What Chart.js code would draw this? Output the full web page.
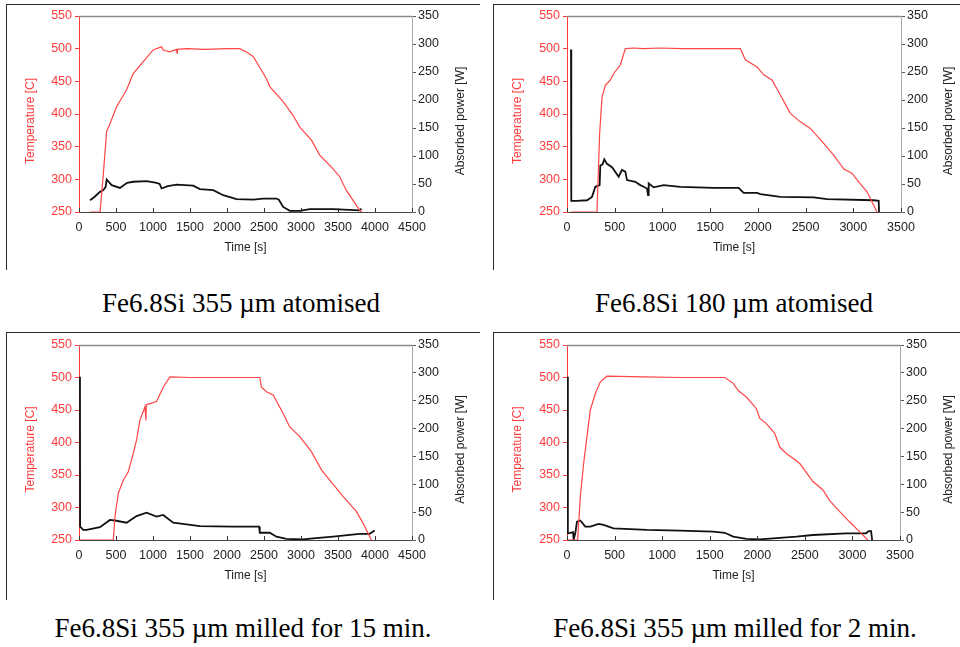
<!DOCTYPE html>
<html><head><meta charset="utf-8">
<script src="https://cdn.jsdelivr.net/npm/chart.js@4.4.1/dist/chart.umd.min.js"></script>
<style>
html,body{margin:0;padding:0;background:#fff;}
body{width:960px;height:647px;overflow:hidden;position:relative;}
.frame{position:absolute;border-left:1px solid #2a2a2a;border-top:1px solid #2a2a2a;box-sizing:border-box;}
.cap{position:absolute;font-family:"Liberation Serif","Times New Roman",serif;font-size:27px;line-height:30px;color:#000;white-space:nowrap;text-align:center;width:480px;}
canvas{position:absolute;}
</style></head><body>
<div class="frame" style="left:6px;top:4px;width:474px;height:266px;"></div>
<div class="frame" style="left:493px;top:4px;width:467px;height:266px;"></div>
<div class="frame" style="left:6px;top:332px;width:474px;height:268px;"></div>
<div class="frame" style="left:493px;top:332px;width:467px;height:268px;"></div>
<canvas id="c1" width="480" height="265" style="left:0;top:0;"></canvas>
<canvas id="c2" width="480" height="265" style="left:480px;top:0;"></canvas>
<canvas id="c3" width="480" height="265" style="left:0;top:330px;"></canvas>
<canvas id="c4" width="480" height="265" style="left:480px;top:330px;"></canvas>
<div class="cap" style="left:1px;top:288px;">Fe6.8Si 355 µm atomised</div>
<div class="cap" style="left:494px;top:288px;">Fe6.8Si 180 µm atomised</div>
<div class="cap" style="left:3px;top:613px;">Fe6.8Si 355 µm milled for 15 min.</div>
<div class="cap" style="left:495px;top:613px;">Fe6.8Si 355 µm milled for 2 min.</div>
<script>
// ---- data (time [s], temperature [C], absorbed power [W]) ----
const p1TempT = [150, 285, 330, 373, 418, 508, 643, 733, 868, 1003, 1093, 1115, 1138, 1228, 1318, 1325, 1330, 1453, 1700, 2000, 2173, 2263, 2353, 2450, 2533, 2578, 2758, 2893, 2983, 3141, 3253, 3433, 3523, 3613, 3793, 3820];
const p1TempV = [250, 250, 310, 373, 385, 411, 437, 462, 480, 498, 502, 503, 498, 495, 499, 493, 499, 500, 499, 500, 500, 495, 488, 470, 454, 442, 419, 398, 380, 360, 337, 316, 304, 283, 253, 250];
const p1PowT = [149, 200, 284, 329, 360, 374, 441, 554, 650, 734, 914, 1049, 1090, 1116, 1200, 1318, 1544, 1634, 1814, 1949, 2129, 2354, 2489, 2669, 2700, 2759, 2849, 2984, 3119, 3434, 3794, 3816];
const p1PowV = [21, 26, 36, 39, 45, 58, 48, 43, 52, 54, 55, 52, 50, 42, 46, 49, 47, 41, 39, 30, 23, 22, 24, 24, 22, 9, 2, 2, 5, 5, 3, 6];

const p2TempT = [42, 314, 342, 367, 402, 454, 489, 559, 611, 699, 800, 978, 1200, 1500, 1816, 1869, 1991, 2061, 2148, 2236, 2340, 2445, 2550, 2690, 2794, 2899, 2987, 3074, 3144, 3249];
const p2TempV = [250, 250, 370, 426, 444, 452, 462, 475, 500, 501, 500, 501, 500, 500, 500, 483, 472, 460, 452, 429, 401, 388, 378, 355, 337, 316, 309, 293, 281, 250];
const p2PowT = [42, 45, 100, 210, 262, 297, 342, 349, 372, 391, 419, 472, 541, 576, 611, 629, 716, 768, 803, 838, 849, 856, 908, 1013, 1188, 1537, 1799, 1851, 1991, 2026, 2236, 2585, 2725, 3213, 3266, 3270];
const p2PowV = [290, 20, 20, 21, 27, 45, 48, 83, 85, 94, 86, 80, 63, 75, 72, 57, 54, 48, 45, 42, 30, 51, 44, 48, 45, 43, 43, 34, 34, 32, 27, 26, 23, 21, 20, 0];

const p3TempT = [0, 463, 486, 531, 598, 666, 733, 778, 823, 891, 905, 910, 936, 1048, 1138, 1228, 1500, 2000, 2443, 2466, 2533, 2623, 2758, 2848, 2983, 3141, 3276, 3388, 3568, 3748, 3838, 3951];
const p3TempV = [250, 250, 286, 322, 342, 355, 383, 404, 434, 455, 434, 458, 459, 463, 485, 501, 500, 500, 500, 485, 478, 473, 445, 424, 409, 386, 358, 342, 317, 294, 276, 250];
const p3PowT = [13, 15, 58, 103, 283, 418, 486, 643, 778, 913, 1048, 1138, 1273, 1453, 1633, 2083, 2434, 2443, 2578, 2668, 2803, 3028, 3163, 3433, 3793, 3928, 3996];
const p3PowV = [293, 24, 18, 18, 23, 36, 35, 31, 43, 49, 42, 45, 31, 28, 25, 24, 24, 13, 13, 6, 2, 1, 3, 6, 11, 11, 17];

const p4TempT = [7, 112, 140, 175, 210, 245, 297, 349, 419, 800, 1200, 1659, 1747, 1799, 1886, 1991, 2026, 2096, 2183, 2236, 2305, 2445, 2585, 2690, 2759, 2864, 2969, 3074, 3161];
const p4TempV = [250, 250, 317, 368, 409, 450, 475, 493, 502, 501, 500, 500, 491, 480, 470, 452, 437, 429, 414, 393, 383, 368, 340, 327, 311, 294, 278, 263, 250];
const p4PowT = [7, 9, 17, 63, 70, 87, 105, 140, 192, 245, 332, 384, 489, 838, 1188, 1537, 1659, 1747, 1886, 2026, 2166, 2410, 2585, 2934, 3144, 3172, 3196, 3207];
const p4PowV = [293, 12, 12, 14, 1, 12, 33, 35, 24, 24, 29, 27, 21, 18, 17, 15, 13, 6, 2, 1, 3, 6, 9, 12, 12, 16, 16, 0];

const xMaxes = [4500, 3500, 4500, 3500];
const tempTicks = [250, 550, 50];   // min, max, step
const powTicks = [0, 350, 50];
const xTitle = 'Time [s]';
const leftTitle = 'Temperature [C]';
const rightTitle = 'Absorbed power [W]';

// ---- rendering ----
const RED = '#ff3b3b';
const FONT = '"Liberation Sans", Arial, sans-serif';
Chart.defaults.font.family = FONT;
Chart.defaults.font.size = 12;
const TICKFONT = {size: 12.5};

const pts = (t, v) => t.map((x, i) => ({x, y: v[i]}));
const plain = v => String(v);

const decor = {
  id: 'decor',
  afterDraw(chart, args, o) {
    const {ctx, chartArea: a, scales} = chart;
    ctx.save();
    ctx.strokeStyle = '#8a8a8a'; ctx.lineWidth = 1.5;
    ctx.beginPath(); ctx.moveTo(a.left, a.top + 0.5); ctx.lineTo(a.right, a.top + 0.5); ctx.stroke();
    ctx.strokeStyle = '#333'; ctx.lineWidth = 1;
    scales.x.ticks.forEach(t => {
      const px = Math.round(scales.x.getPixelForValue(t.value)) + 0.5;
      ctx.beginPath(); ctx.moveTo(px, a.bottom); ctx.lineTo(px, a.bottom - 4); ctx.stroke();
    });
    ctx.font = '12px ' + FONT;
    ctx.textAlign = 'center'; ctx.textBaseline = 'middle';
    const cy = (a.top + a.bottom) / 2 + 7;
    ctx.save(); ctx.fillStyle = RED; ctx.translate(o.lx, cy); ctx.rotate(-Math.PI / 2); ctx.fillText(leftTitle, 0, 0); ctx.restore();
    ctx.save(); ctx.fillStyle = '#222'; ctx.translate(o.rx, cy); ctx.rotate(-Math.PI / 2); ctx.fillText(rightTitle, 0, 0); ctx.restore();
    ctx.restore();
  }
};

function makeChart(id, tempT, tempV, powT, powV, xMax, L) {
  new Chart(document.getElementById(id), {
    type: 'line',
    data: {
      datasets: [
        {data: pts(tempT, tempV), yAxisID: 'y', borderColor: '#ff4545', borderWidth: 1.2, pointRadius: 0, tension: 0},
        {data: pts(powT, powV), yAxisID: 'y1', borderColor: '#111', borderWidth: 1.8, pointRadius: 0, tension: 0}
      ]
    },
    options: {
      responsive: false, animation: false,
      layout: {padding: {top: L.top, left: 0, right: 0, bottom: 0}},
      plugins: {legend: {display: false}, tooltip: {enabled: false}, decor: {lx: L.lx, rx: L.rx}},
      scales: {
        x: {
          type: 'linear', min: 0, max: xMax,
          ticks: {stepSize: 500, color: '#222', padding: 8, maxRotation: 0, font: TICKFONT, callback: plain},
          grid: {display: false, drawTicks: false},
          border: {display: true, color: '#444', width: 1},
          title: {display: true, text: xTitle, color: '#222', padding: {top: 4, bottom: L.xtp}},
          afterFit: s => { s.height = L.xh; }
        },
        y: {
          position: 'left', min: tempTicks[0], max: tempTicks[1],
          ticks: {stepSize: tempTicks[2], color: RED, padding: 3, font: TICKFONT, callback: plain},
          grid: {display: true, drawOnChartArea: false, drawTicks: true, tickLength: 4, color: RED},
          border: {display: true, color: RED, width: 1},
          afterFit: s => { s.width = L.yl; }
        },
        y1: {
          position: 'right', min: powTicks[0], max: powTicks[1],
          ticks: {stepSize: powTicks[2], color: '#222', padding: 2, font: TICKFONT, callback: plain},
          grid: {display: true, drawOnChartArea: false, drawTicks: true, tickLength: 4, color: '#555'},
          border: {display: true, color: '#aaaaaa', width: 1},
          afterFit: s => { s.width = L.yr; }
        }
      }
    },
    plugins: [decor]
  });
}

makeChart('c1', p1TempT, p1TempV, p1PowT, p1PowV, xMaxes[0], {top: 16, yl: 79, yr: 68, xh: 53, xtp: 10, lx: 30.5, rx: 461});
makeChart('c2', p2TempT, p2TempV, p2PowT, p2PowV, xMaxes[1], {top: 16, yl: 87, yr: 59, xh: 53, xtp: 10, lx: 37.7, rx: 469});
makeChart('c3', p3TempT, p3TempV, p3PowT, p3PowV, xMaxes[2], {top: 15, yl: 79, yr: 68, xh: 55, xtp: 12, lx: 30.5, rx: 461});
makeChart('c4', p4TempT, p4TempV, p4PowT, p4PowV, xMaxes[3], {top: 15, yl: 87, yr: 60, xh: 55, xtp: 12, lx: 37.7, rx: 469});
</script>
</body></html>
